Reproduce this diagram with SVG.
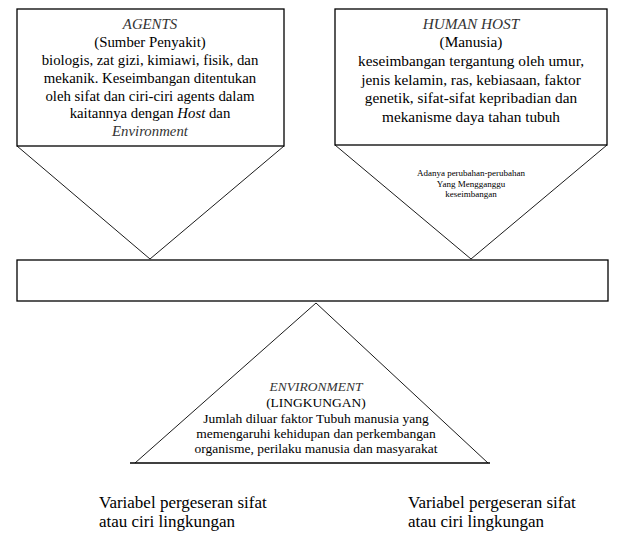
<svg xmlns="http://www.w3.org/2000/svg" width="624" height="547" viewBox="0 0 624 547">
<style>
.box{fill:#fff;stroke:#000;stroke-width:1.3}
.tri{fill:#fff;stroke:#000;stroke-width:0.9}
.t{font-family:"Liberation Serif","Times New Roman",serif;fill:#000;text-anchor:middle}
.b{font-size:14.8px}
.c{font-size:15.3px}
.h{font-style:italic;fill:#333}
.s{font-size:9px}
.e{font-size:13.5px}
.l{font-family:"Liberation Serif","Times New Roman",serif;font-size:17px;fill:#000}
</style>
<rect width="624" height="547" fill="#fff"/>
<g id="agents">
<polyline class="tri" points="17,146 150,259 284,146"/>
<rect class="box" x="17" y="9" width="267" height="137"/>
<text class="t b h" x="150" y="29">AGENTS</text>
<text class="t b" x="150" y="47">(Sumber Penyakit)</text>
<text class="t b" x="150" y="65">biologis, zat gizi, kimiawi, fisik, dan</text>
<text class="t b" x="150" y="83">mekanik. Keseimbangan ditentukan</text>
<text class="t b" x="150" y="101">oleh sifat dan ciri-ciri agents dalam</text>
<text class="t b" x="150" y="118">kaitannya dengan <tspan font-style="italic">Host</tspan> dan</text>
<text class="t b h" x="150" y="136">Environment</text>
</g>
<g id="host">
<polyline class="tri" points="335,145 471,259 607,145"/>
<rect class="box" x="335" y="9" width="272" height="136"/>
<text class="t c h" x="471" y="29">HUMAN HOST</text>
<text class="t c" x="471" y="47">(Manusia)</text>
<text class="t c" x="471" y="66">keseimbangan tergantung oleh umur,</text>
<text class="t c" x="471" y="85">jenis kelamin, ras, kebiasaan, faktor</text>
<text class="t c" x="471" y="103">genetik, sifat-sifat kepribadian  dan</text>
<text class="t c" x="471" y="122">mekanisme daya tahan tubuh</text>
<text class="t s" x="471" y="176">Adanya perubahan-perubahan</text>
<text class="t s" x="471" y="187">Yang Mengganggu</text>
<text class="t s" x="471" y="197">keseimbangan</text>
</g>
<g id="balance">
<rect class="box" x="17" y="260" width="591" height="41"/>
</g>
<g id="environment">
<polyline class="tri" points="135,463 316,303 488,463"/>
<line x1="130" y1="463" x2="490" y2="463" stroke="#000" stroke-width="1.3"/>
<text class="t e h" x="316" y="391">ENVIRONMENT</text>
<text class="t e" x="316" y="407">(LINGKUNGAN)</text>
<text class="t e" x="316" y="423">Jumlah diluar faktor Tubuh manusia yang</text>
<text class="t e" x="316" y="438">memengaruhi kehidupan dan perkembangan</text>
<text class="t e" x="316" y="453">organisme, perilaku manusia dan masyarakat</text>
</g>
<g id="label-left">
<text class="l" x="99" y="508">Variabel pergeseran sifat</text>
<text class="l" x="99" y="527">atau ciri lingkungan</text>
</g>
<g id="label-right">
<text class="l" x="408" y="508">Variabel pergeseran sifat</text>
<text class="l" x="408" y="527">atau ciri lingkungan</text>
</g>
<g id="connectors"></g>
</svg>
